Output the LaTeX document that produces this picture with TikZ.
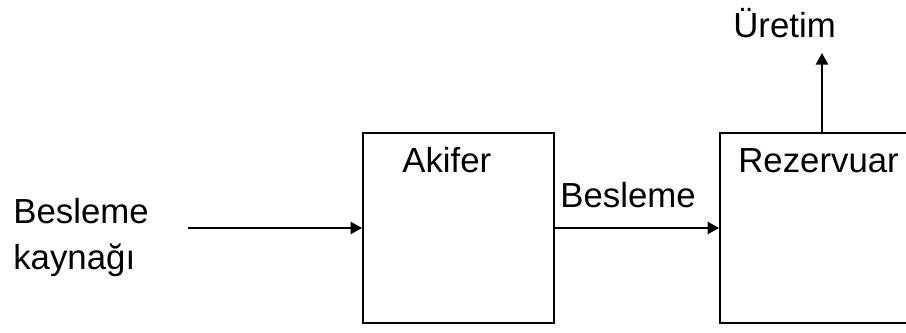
\documentclass[tikz,border=0pt]{standalone}
\usepackage{fontspec}
\setmainfont{Liberation Sans}
\usetikzlibrary{arrows.meta}

\tikzset{
  kutu/.style={draw, line width=0.034cm, inner sep=0pt},
  etiket/.style={inner sep=0pt, anchor=base west},
  ok/.style={line width=0.038cm, -{Triangle[length=0.23cm,width=0.24cm]}}
}

\begin{document}
\begin{tikzpicture}[x=0.02cm, y=-0.02cm, font=\fontsize{19.8}{26.1}\selectfont]
  \useasboundingbox (0,0) rectangle (906,332);
  \clip (0,0) rectangle (906,332);
  % Boîtes
  \node[kutu, minimum width=3.82cm, minimum height=3.8cm] (akifer) at (458.5,228) {};
  \node[kutu, minimum width=4.8cm, minimum height=3.8cm] (rezervuar) at (840,228) {};
  % Textes
  \node[etiket] (akiferyazi) at (402,172) {Akifer};
  \node[etiket] (rezyazi) at (738,172) {Rezervuar};
  \node[etiket] (besleme) at (560,207) {Besleme};
  \node[etiket] (uretim) at (733,37) {Üretim};
  \node[inner sep=0pt, anchor=north west, align=left] (kaynak) at (13,198) {Besleme\\kaynağı};
  % Flèches
  \coordinate (giris) at (188,228);
  \coordinate (cikis) at (822,53);
  \draw[ok] (giris) -- (akifer.west);
  \draw[ok] (akifer.east) -- (rezervuar.west);
  \draw[ok] (rezervuar.north -| cikis) -- (cikis);
\end{tikzpicture}
\end{document}
